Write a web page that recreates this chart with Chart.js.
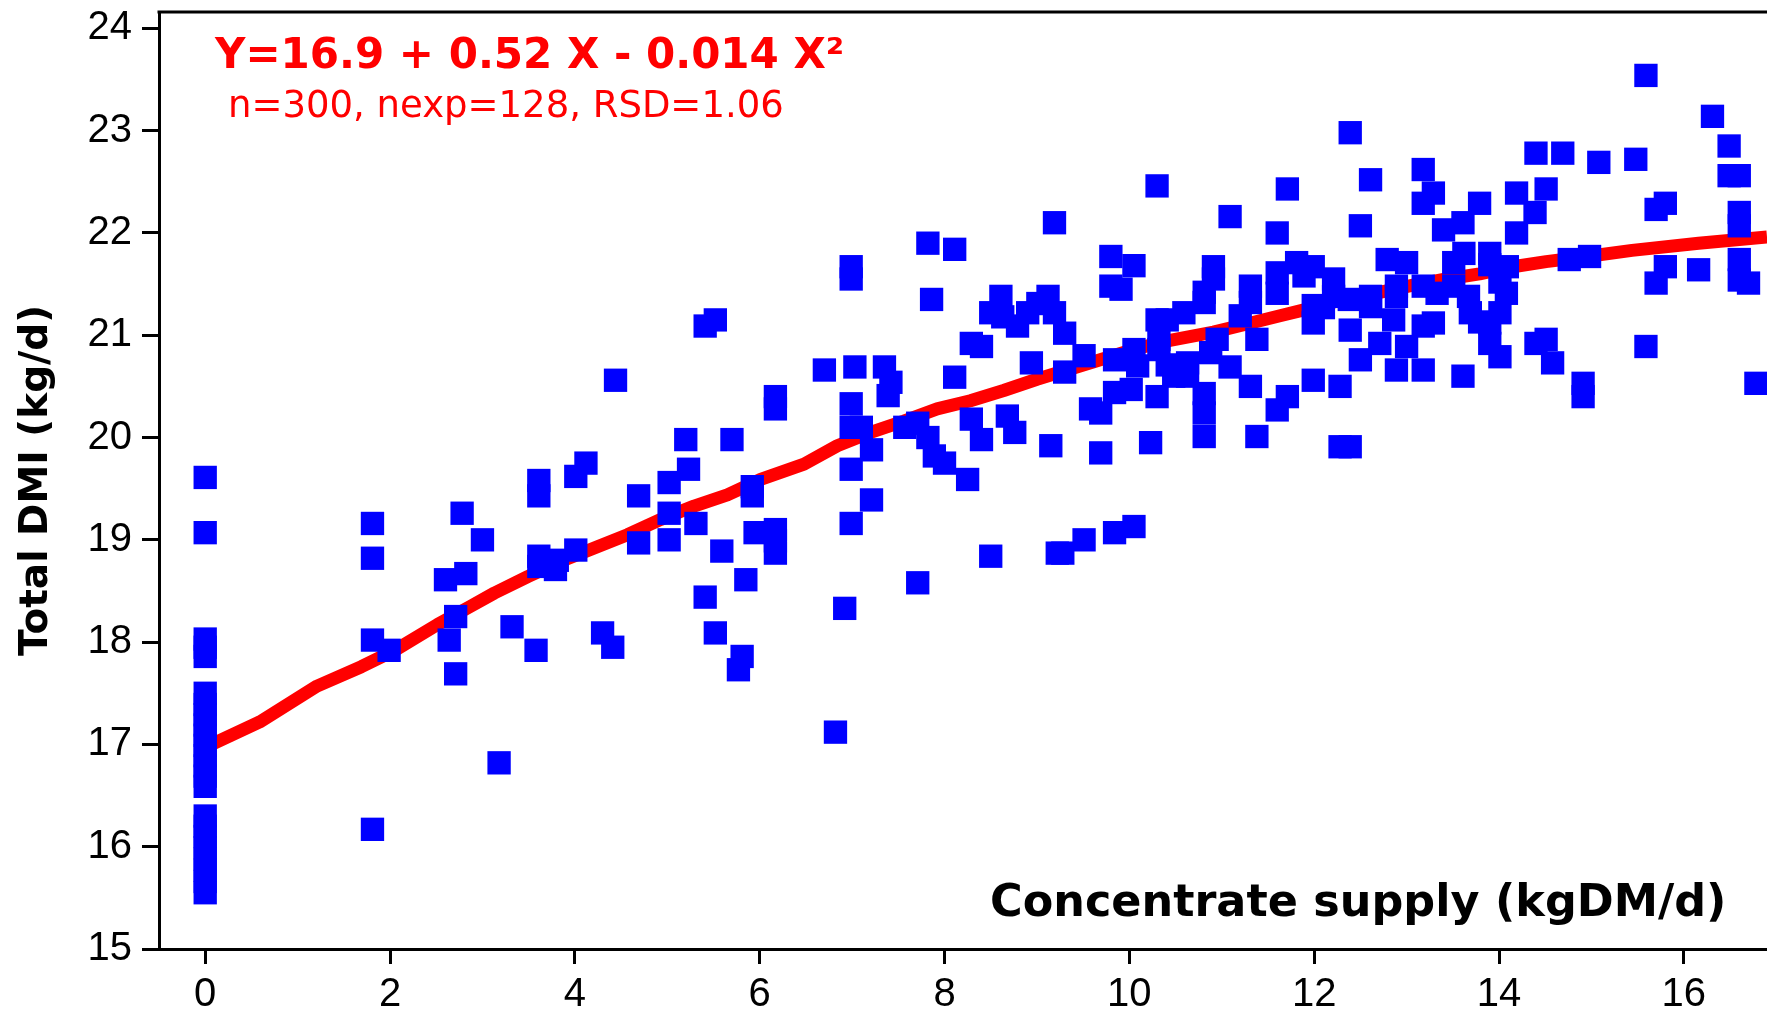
<!DOCTYPE html>
<html>
<head>
<meta charset="utf-8">
<script src="https://cdn.jsdelivr.net/npm/chart.js@4/dist/chart.umd.min.js"></script>
<style>
  html, body { margin: 0; padding: 0; background: #ffffff; }
  #wrap { width: 1767px; height: 1012px; position: relative; }
</style>
</head>
<body>
<div id="wrap"><canvas id="c" width="1767" height="1012"></canvas></div>
<script>
// ---------- DATA ----------
const xTickValues = [0, 2, 4, 6, 8, 10, 12, 14, 16];
const yTickValues = [15, 16, 17, 18, 19, 20, 21, 22, 23, 24];

const equationText = 'Y=16.9 + 0.52 X - 0.014 X\u00B2';
const statsText = 'n=300, nexp=128, RSD=1.06';
const xAxisTitle = 'Concentrate supply (kgDM/d)';
const yAxisTitle = 'Total DMI (kg/d)';

// Observed points: concentrate supply (kgDM/d)
const obsX = [
  0,0,0,0,0,0,0,0,0,0,0,0,0,0,0,0,0,0,0,0,0,0,0,
  1.81,1.81,1.81,1.99,1.81,2.60,2.82,2.71,2.64,2.71,2.78,3.00,3.18,3.32,3.58,
  3.61,3.61,3.79,3.81,4.01,3.61,3.61,4.12,4.01,4.44,4.30,4.41,4.69,4.69,
  5.02,5.02,5.02,5.20,5.23,5.31,5.41,5.52,5.41,5.52,5.59,5.70,5.81,5.77,5.85,
  5.92,5.92,5.95,6.17,6.17,6.17,6.17,6.17,
  6.70,6.82,6.92,6.99,7.21,6.99,6.99,7.03,7.35,7.42,7.39,6.99,6.99,7.10,7.21,6.99,
  7.71,7.82,8.11,7.86,7.57,7.71,7.82,7.89,8.00,8.25,8.29,8.40,8.68,8.76,9.15,
  8.94,9.30,9.51,8.29,8.40,8.11,8.61,8.50,8.63,8.79,8.90,9.01,9.12,9.19,9.30,
  9.19,8.50,9.22,9.28,9.51,9.84,10.05,9.69,9.58,9.69,10.23,9.80,10.05,9.80,9.91,
  10.30,9.84,10.05,10.09,9.84,10.02,10.30,10.41,10.59,10.32,10.32,10.41,10.48,10.30,
  12.39,14.40,14.69,15.08,11.71,12.61,13.18,13.29,13.18,11.09,11.60,12.50,13.79,
  14.19,14.51,14.39,14.19,13.40,13.61,10.91,10.91,10.81,10.81,10.95,10.88,10.63,
  10.63,11.09,10.81,10.81,10.81,11.31,11.31,11.20,11.38,11.31,11.60,11.60,11.81,
  11.99,11.89,11.99,11.99,12.10,12.21,12.21,12.38,12.61,12.61,12.39,11.99,12.28,
  11.71,11.60,11.38,12.28,12.39,12.50,12.71,12.79,13.00,12.89,12.89,12.86,13.00,
  12.89,13.18,13.18,13.33,13.18,13.29,13.51,13.62,13.51,13.67,13.69,13.79,13.90,
  13.90,14.09,14.01,14.08,14.01,13.90,13.90,14.01,14.40,14.51,14.58,13.61,14.91,
  14.91,14.76,14.98,
  15.59,16.31,16.49,16.49,16.60,15.48,15.70,15.80,16.60,16.60,15.80,15.70,16.16,
  16.60,16.60,16.70,15.59,16.78
];
// Observed points: total DMI (kg/d)
const obsY = [
  15.55,15.66,15.77,15.88,15.99,16.10,16.20,16.30,16.59,16.69,16.79,16.89,16.99,17.09,17.19,17.29,17.39,17.50,17.86,17.95,18.03,19.07,19.61,
  19.16,18.82,18.02,17.92,16.17,18.61,18.67,18.25,18.02,17.69,19.26,19.00,16.82,18.15,17.92,
  18.84,18.74,18.71,18.80,18.90,19.58,19.43,19.75,19.62,20.56,18.09,17.95,19.43,18.97,
  19.56,19.26,19.00,19.98,19.69,19.16,21.09,21.15,18.44,18.09,18.89,19.98,17.86,17.73,18.61,
  19.52,19.43,19.07,20.40,20.28,19.10,18.99,18.87,
  20.66,17.12,18.33,19.16,19.39,21.67,21.55,20.69,20.69,20.54,20.41,20.33,20.10,20.10,19.88,19.69,
  18.58,21.90,21.84,21.35,20.10,20.14,20.00,19.82,19.75,19.59,20.18,19.98,20.21,20.05,19.92,
  20.73,20.64,20.80,20.92,20.89,20.59,21.38,21.22,21.18,21.09,21.22,21.31,21.38,21.22,21.02,
  22.10,18.84,18.87,18.87,19.00,19.07,19.13,19.85,20.28,20.24,19.95,21.77,21.68,21.48,21.45,
  22.46,20.76,20.86,20.70,20.44,20.47,21.15,21.15,21.22,20.96,20.86,20.71,20.60,20.40,
  22.98,22.78,22.78,22.69,22.43,22.52,22.62,22.39,22.29,22.16,22.00,22.07,22.29,
  22.39,22.43,22.20,22.00,22.03,22.10,21.67,21.55,21.42,21.32,20.96,20.83,20.73,
  20.60,20.69,20.43,20.24,20.01,21.48,21.32,21.19,20.96,20.50,21.61,21.41,21.71,
  21.67,21.58,21.29,21.12,21.27,21.55,21.38,21.35,21.38,21.28,21.05,20.56,20.50,
  20.40,20.27,20.01,19.91,19.91,20.76,20.92,21.74,21.71,21.48,21.38,21.15,20.89,
  20.66,20.66,21.48,21.41,21.09,21.12,21.71,21.80,21.48,21.38,21.22,21.13,21.80,
  21.69,21.67,21.52,21.41,21.22,21.12,20.92,20.79,20.92,20.96,20.73,20.60,20.53,
  20.40,21.74,21.77,
  23.54,23.14,22.85,22.56,22.56,22.72,22.23,22.29,22.20,22.07,21.67,21.51,21.64,
  21.74,21.54,21.51,20.89,20.53
];

// Fitted curve as drawn in the figure
const fitX = [0, 0.59, 1.21, 1.69, 2.05, 2.51, 2.87, 3.13, 3.49, 3.85, 4.21, 4.57, 4.93, 5.29, 5.65, 6.01,
  6.48, 6.84, 7.20, 7.56, 7.92, 8.28, 8.64, 9.00, 9.36, 9.72, 10.08, 10.44, 10.91, 11.27, 11.63, 11.99,
  12.35, 12.71, 13.07, 13.43, 13.79, 14.15, 14.51, 14.87, 15.44, 16.16, 16.90];
const fitY = [16.97, 17.22, 17.57, 17.76, 17.92, 18.17, 18.35, 18.48, 18.64, 18.79, 18.92, 19.05, 19.20, 19.33, 19.44, 19.59,
  19.74, 19.92, 20.05, 20.16, 20.28, 20.36, 20.46, 20.57, 20.67, 20.77, 20.87, 20.95, 21.03, 21.11, 21.19, 21.27,
  21.36, 21.42, 21.49, 21.55, 21.60, 21.67, 21.72, 21.76, 21.83, 21.90, 21.96];

// ---------- CHART ----------
const obsPoints = obsX.map((x, i) => ({ x: x, y: obsY[i] }));
const fitPoints = fitX.map((x, i) => ({ x: x, y: fitY[i] }));

const annotationPlugin = {
  id: 'annotations',
  afterDraw(chart) {
    const ctx = chart.ctx;
    const a = chart.chartArea;
    ctx.save();
    // top frame line
    ctx.strokeStyle = '#000000';
    ctx.lineWidth = 3;
    ctx.beginPath();
    ctx.moveTo(a.left - 1.5, a.top);
    ctx.lineTo(a.right, a.top);
    ctx.stroke();
    // equation text
    ctx.textAlign = 'left';
    ctx.textBaseline = 'alphabetic';
    ctx.fillStyle = '#FF0000';
    ctx.font = 'bold 42px "DejaVu Sans"';
    ctx.fillText(equationText, a.left + 56, a.top + 56);
    ctx.font = '37px "DejaVu Sans"';
    ctx.fillText(statsText, a.left + 69, a.top + 105);
    // x axis title inside plot
    ctx.fillStyle = '#000000';
    ctx.font = 'bold 44.5px "DejaVu Sans"';
    ctx.fillText(xAxisTitle, a.left + 831, a.bottom - 33);
    ctx.restore();
  }
};

new Chart(document.getElementById('c'), {
  type: 'scatter',
  data: {
    datasets: [
      {
        label: 'Observed',
        data: obsPoints,
        pointStyle: 'rect',
        pointRadius: 16.5,
        pointHoverRadius: 16.5,
        backgroundColor: '#0000FF',
        borderColor: '#0000FF',
        borderWidth: 0,
        order: 1
      },
      {
        type: 'line',
        label: 'Fit',
        data: fitPoints,
        showLine: true,
        borderColor: '#FF0000',
        borderWidth: 13,
        pointRadius: 0,
        pointHoverRadius: 0,
        fill: false,
        tension: 0,
        borderJoinStyle: 'round',
        borderCapStyle: 'butt',
        order: 2
      }
    ]
  },
  options: {
    responsive: false,
    animation: false,
    devicePixelRatio: 1,
    events: [],
    layout: { autoPadding: false, padding: { left: 0, top: 12, right: 0, bottom: 0 } },
    plugins: { legend: { display: false }, tooltip: { enabled: false }, title: { display: false } },
    scales: {
      x: {
        type: 'linear',
        position: 'bottom',
        min: -0.5,
        max: 16.9,
        afterBuildTicks: (s) => { s.ticks = xTickValues.map(v => ({ value: v })); },
        afterFit: (s) => { s.height = 63; s.paddingLeft = 0; s.paddingRight = 0; },
        grid: { drawOnChartArea: false, drawTicks: true, tickLength: 15, tickWidth: 3, tickColor: '#000000' },
        border: { display: true, color: '#000000', width: 3 },
        ticks: {
          color: '#000000',
          font: { family: 'Liberation Sans', size: 40 },
          padding: 7,
          maxRotation: 0,
          autoSkip: false
        }
      },
      y: {
        type: 'linear',
        position: 'left',
        min: 15,
        max: 24.16,
        afterBuildTicks: (s) => { s.ticks = yTickValues.map(v => ({ value: v })); },
        afterFit: (s) => { s.width = 159; s.paddingTop = 0; s.paddingBottom = 0; },
        grid: { drawOnChartArea: false, drawTicks: true, tickLength: 17, tickWidth: 3, tickColor: '#000000' },
        border: { display: true, color: '#000000', width: 3 },
        ticks: {
          color: '#000000',
          font: { family: 'Liberation Sans', size: 40 },
          padding: 10,
          autoSkip: false
        },
        title: {
          display: true,
          text: yAxisTitle,
          color: '#000000',
          font: { family: 'DejaVu Sans', weight: 'bold', size: 39 },
          padding: { top: 13, bottom: 0 }
        }
      }
    }
  },
  plugins: [annotationPlugin]
});
</script>
</body>
</html>
